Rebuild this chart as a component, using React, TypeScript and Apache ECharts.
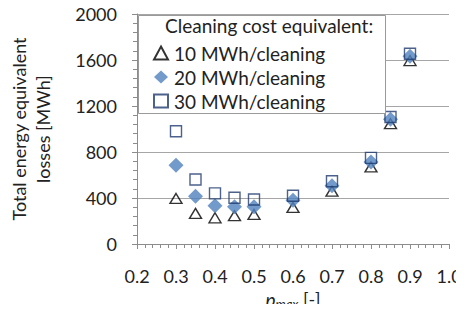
import React, { useEffect, useRef } from "react";
import * as echarts from "echarts";

const pmax = [0.3, 0.35, 0.4, 0.45, 0.5, 0.6, 0.7, 0.8, 0.85, 0.9];
const loss10 = [396, 266, 228, 246, 257, 318, 460, 670, 1046, 1595];
const loss20 = [685, 416, 332, 324, 324, 381, 506, 714, 1084, 1633];
const loss30 = [980, 561, 440, 402, 387, 420, 546, 749, 1104, 1655];
const seriesNames = ["10 MWh/cleaning", "20 MWh/cleaning", "30 MWh/cleaning"];
const legendTitle = "Cleaning cost equivalent:";

const FONT = "Lato, 'Open Sans', sans-serif";
const TXT = "#222";

export default function App() {
  const ref = useRef<HTMLDivElement>(null);
  useEffect(() => {
    if (!ref.current) return;
    const chart = echarts.init(ref.current, undefined, { renderer: "svg" });
    const pts = (ys: number[]) => pmax.map((x, i) => [x, ys[i]]);
    chart.setOption({
      animation: false,
      textStyle: { fontFamily: FONT },
      grid: { left: 137, right: 15, top: 14, bottom: 68, outerBoundsMode: "none", containLabel: false },
      xAxis: {
        type: "value",
        min: 0.2,
        max: 1.0,
        interval: 0.1,
        axisLine: { show: true, lineStyle: { color: "#8c8c8c", width: 1 } },
        axisTick: { show: true, length: 5, lineStyle: { color: "#8c8c8c" } },
        minorTick: { show: true, splitNumber: 5, length: 4, lineStyle: { color: "#8c8c8c" } },
        splitLine: { show: false },
        axisLabel: {
          color: TXT,
          fontSize: 18,
          fontFamily: FONT,
          margin: 23,
          formatter: (v: number) => v.toFixed(1),
        },
        name: "{p|p}{s|max} {n|[-]}",
        nameLocation: "middle",
        nameGap: 31,
        nameTextStyle: {
          color: TXT,
          fontSize: 18,
          fontFamily: FONT,
          rich: {
            p: { fontStyle: "italic", fontSize: 19, fontFamily: FONT, color: TXT },
            s: { fontStyle: "italic", fontSize: 13, fontFamily: FONT, color: TXT, padding: [9, 0, 0, 0] },
            n: { fontSize: 18, fontFamily: FONT, color: TXT },
          },
        },
      },
      yAxis: {
        type: "value",
        min: 0,
        max: 2000,
        interval: 400,
        axisLine: { show: true, lineStyle: { color: "#8c8c8c", width: 1 } },
        axisTick: { show: true, length: 5, lineStyle: { color: "#8c8c8c" } },
        minorTick: { show: true, splitNumber: 5, length: 4, lineStyle: { color: "#8c8c8c" } },
        splitLine: { show: true, lineStyle: { color: "#a6a6a6", width: 1 } },
        axisLabel: {
          color: TXT,
          fontSize: 18,
          fontFamily: FONT,
          margin: 20,
          formatter: (v: number) => String(v),
        },
        name: "Total energy equivalent\nlosses [MWh]",
        nameLocation: "middle",
        nameRotate: 90,
        nameGap: 82,
        nameTextStyle: { color: TXT, fontSize: 18, fontFamily: FONT, lineHeight: 24 },
      },
      legend: {
        show: true,
        orient: "vertical",
        left: 148,
        top: 36,
        itemWidth: 14,
        itemHeight: 13,
        itemGap: 0,
        z: 6,
        textStyle: { fontSize: 19, fontFamily: FONT, color: TXT, lineHeight: 24, padding: [0, 0, 0, 1] },
        data: seriesNames,
      },
      graphic: [
        {
          type: "rect",
          z: 5,
          shape: { x: 138.5, y: 15.5, width: 247, height: 98 },
          style: { fill: "#fff", stroke: "#9a9a9a", lineWidth: 1 },
        },
        {
          type: "text",
          z: 6,
          left: 165,
          top: 16,
          style: { text: legendTitle, fontSize: 19, fontFamily: FONT, fill: TXT },
        },
      ],
      series: [
        {
          name: seriesNames[0],
          type: "scatter",
          symbol: "triangle",
          symbolSize: [12, 10],
          z: 2,
          itemStyle: { color: "rgba(255,255,255,0)", borderColor: "#000", borderWidth: 1.4 },
          data: pts(loss10),
        },
        {
          name: seriesNames[1],
          type: "scatter",
          symbol: "diamond",
          symbolSize: 15,
          z: 3,
          itemStyle: { color: "#4f81bd" },
          data: pts(loss20),
        },
        {
          name: seriesNames[2],
          type: "scatter",
          symbol: "rect",
          symbolSize: 11,
          z: 4,
          itemStyle: { color: "rgba(255,255,255,0)", borderColor: "#1f3a6e", borderWidth: 1.4 },
          data: pts(loss30),
        },
      ],
    });
    return () => chart.dispose();
  }, []);
  return <div ref={ref} style={{ width: 464, height: 312, margin: -8 }} />;
}
